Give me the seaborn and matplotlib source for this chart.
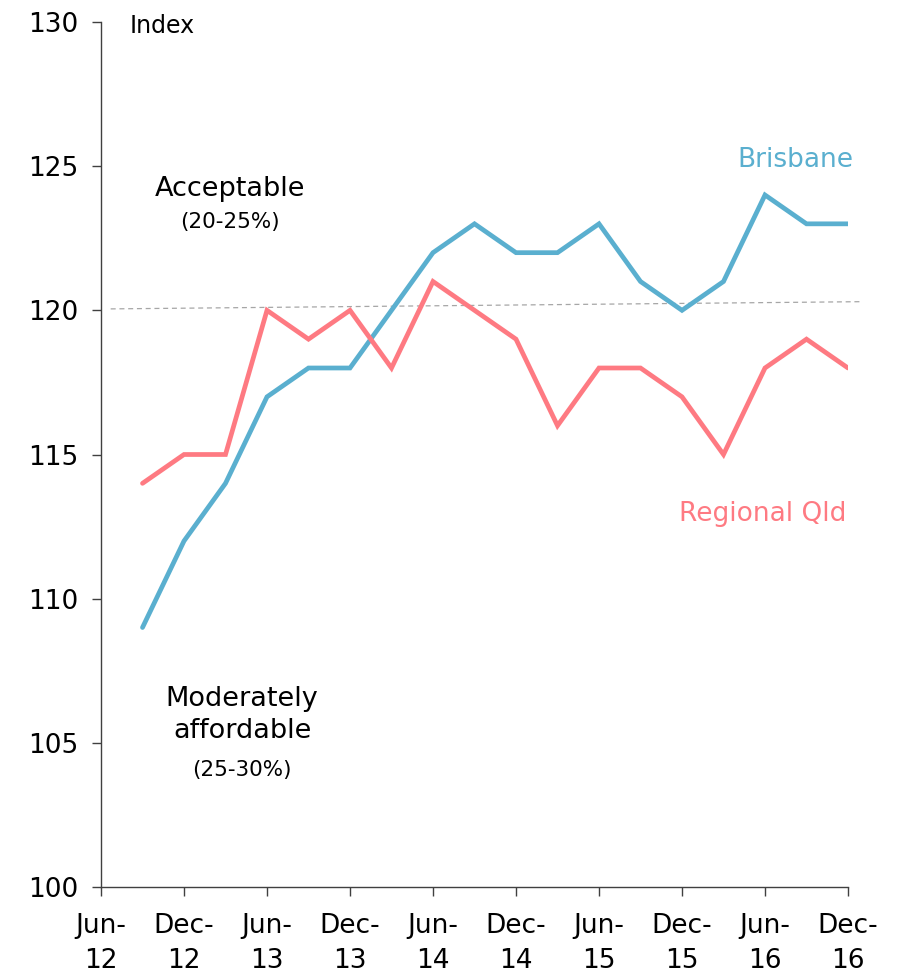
import matplotlib
matplotlib.use("Agg")
import matplotlib.pyplot as plt
import seaborn as sns
import pandas as pd
import numpy as np

# Quarterly periods (months since Jun-12)
quarters = ["Sep-12", "Dec-12", "Mar-13", "Jun-13", "Sep-13", "Dec-13", "Mar-14", "Jun-14", "Sep-14",
            "Dec-14", "Mar-15", "Jun-15", "Sep-15", "Dec-15", "Mar-16", "Jun-16", "Sep-16", "Dec-16"]
months = [3, 6, 9, 12, 15, 18, 21, 24, 27, 30, 33, 36, 39, 42, 45, 48, 51, 54]
brisbane = [109, 112, 114, 117, 118, 118, 120, 122, 123, 122, 122, 123, 121, 120, 121, 124, 123, 123]
regional = [114, 115, 115, 120, 119, 120, 118, 121, 120, 119, 116, 118, 118, 117, 115, 118, 119, 118]

tick_months = [0, 6, 12, 18, 24, 30, 36, 42, 48, 54]
tick_labels = ["Jun-\n12", "Dec-\n12", "Jun-\n13", "Dec-\n13", "Jun-\n14", "Dec-\n14",
               "Jun-\n15", "Dec-\n15", "Jun-\n16", "Dec-\n16"]
y_ticks = [100, 105, 110, 115, 120, 125, 130]

# threshold line endpoints (months, index)
thresh_x = [0.7, 54.9]
thresh_y = [120.05, 120.3]

colors = {"Brisbane": "#5AAFCF", "Regional Qld": "#FE7A82"}

df = pd.DataFrame({
    "month": months * 2,
    "value": brisbane + regional,
    "series": ["Brisbane"] * len(months) + ["Regional Qld"] * len(months),
})

sns.set_theme(style="white")
plt.rcParams["font.family"] = ["DejaVu Sans"]
plt.rcParams["text.color"] = "black"

fig = plt.figure(figsize=(9.15, 9.77), dpi=100)
ax = fig.add_axes([101 / 915, 1 - 887 / 977, (848 - 101) / 915, (887 - 22) / 977])

sns.lineplot(data=df, x="month", y="value", hue="series", palette=colors,
             linewidth=3.4, ax=ax, legend=False)
for ln in ax.get_lines():
    ln.set_solid_capstyle("round")
    ln.set_solid_joinstyle("miter")

ax.plot(thresh_x, thresh_y, color="#A6A6A6", linestyle=(0, (4, 3)), linewidth=0.9, clip_on=False, zorder=1)

ax.set_xlim(0, 54)
ax.set_ylim(100, 130)
ax.set_xticks(tick_months)
ax.set_xticklabels(tick_labels, fontsize=19, linespacing=1.45)
ax.set_yticks(y_ticks)
ax.set_yticklabels([str(v) for v in y_ticks], fontsize=19)
ax.set_xlabel("")
ax.set_ylabel("")

for s in ["top", "right"]:
    ax.spines[s].set_visible(False)
for s in ["left", "bottom"]:
    ax.spines[s].set_color("#404040")
    ax.spines[s].set_linewidth(1.0)
ax.tick_params(axis="both", which="both", direction="out", length=6.5, width=1.0, color="#404040",
               labelcolor="black", bottom=True, left=True)
ax.tick_params(axis="y", pad=10)
ax.tick_params(axis="x", pad=12)

ax.text(2.1, 129.85, "Index", fontsize=17, ha="left", va="center")
ax.text(54.4, 125.2, "Brisbane", fontsize=19, color=colors["Brisbane"], ha="right", va="center")
ax.text(53.9, 112.95, "Regional Qld", fontsize=19, color=colors["Regional Qld"], ha="right", va="center")
ax.text(9.3, 124.2, "Acceptable", fontsize=19.5, ha="center", va="center")
ax.text(9.3, 123.07, "(20-25%)", fontsize=15.5, ha="center", va="center")
ax.text(10.2, 105.95, "Moderately\naffordable", fontsize=19.5, ha="center", va="center", linespacing=1.3)
ax.text(10.2, 104.05, "(25-30%)", fontsize=15.5, ha="center", va="center")

fig.savefig("out.png", dpi=100, facecolor="white")
